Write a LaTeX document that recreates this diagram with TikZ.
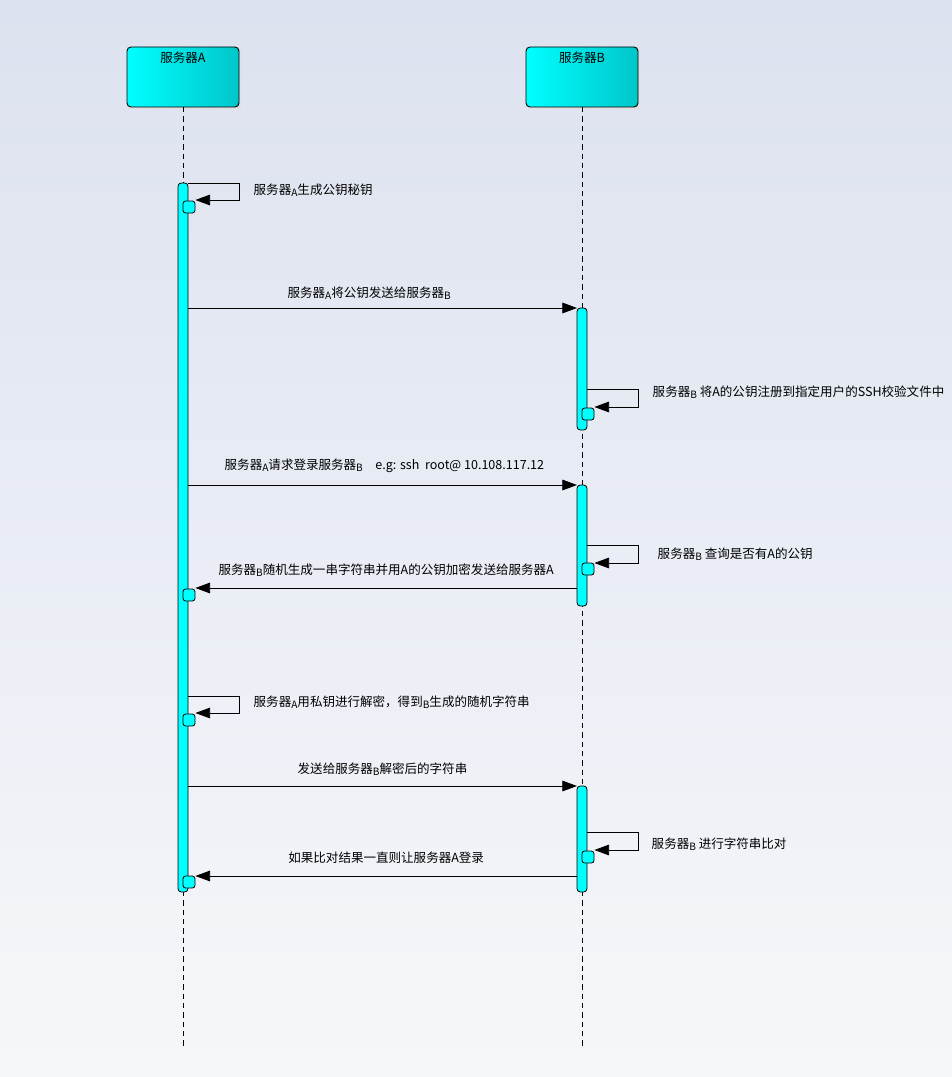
\documentclass[tikz,border=0pt]{standalone}
\usepackage{fontspec}
\setmainfont{Noto Sans CJK SC}
\usetikzlibrary{arrows.meta, positioning, calc}
\definecolor{bgtop}{HTML}{DCE2EF}
\definecolor{bgbot}{HTML}{F6F7FA}
\definecolor{cyanL}{HTML}{00FFFF}
\definecolor{cyanR}{HTML}{00C6CA}
\newcommand{\lowlet}[1]{\raisebox{-0.3ex}{\fontsize{7.6}{8}\selectfont #1}}

\begin{document}
\begin{tikzpicture}[x=0.75pt, y=-0.75pt,
  every node/.style={font=\fontsize{9.4}{11}\selectfont},
  headbox/.style={left color=cyanL, right color=cyanR, draw=black, rounded corners=3pt, line width=0.7pt},
  actbar/.style={fill=cyanL, draw=black, rounded corners=2.5pt, line width=0.6pt},
  tick/.style={fill=cyanL, draw=black, rounded corners=2pt, line width=0.6pt, minimum width=9pt, minimum height=9pt, inner sep=0pt},
  msg/.style={-{Triangle[length=11pt, width=8pt]}, line width=0.6pt},
  life/.style={dashed, line width=0.5pt, dash pattern=on 4pt off 3pt}]
  % background
  \useasboundingbox (0,0) rectangle (952,1077);
  \shade[top color=bgtop, bottom color=bgbot] (0,0) rectangle (952,1077);

  % heads and lifelines
  \fill[black!12] (129,49) rectangle (241,109);
  \fill[black!12] (528,49) rectangle (640,109);
  \draw[headbox] (127,47) rectangle (239,107);
  \draw[headbox] (526,47) rectangle (638,107);
  \node (hA) at (183,58) {服务器A};
  \node (hB) at (582,58) {服务器B};
  \foreach \x in {183, 582}
    \draw[life] (\x,107) -- (\x,1047);

  % activation bars
  \draw[actbar] (178,183) rectangle (188,892);
  \draw[actbar] (577,308) rectangle (587,430);
  \draw[actbar] (577,485) rectangle (587,606);
  \draw[actbar] (577,786) rectangle (587,892);

  % small boxes
  \node[tick] (ta1) at (189,207) {};
  \node[tick] (ta2) at (189,595) {};
  \node[tick] (ta3) at (189,720) {};
  \node[tick] (ta4) at (189,882) {};
  \node[tick] (tb1) at (588,414) {};
  \node[tick] (tb2) at (588,569) {};
  \node[tick] (tb3) at (588,857) {};

  % self messages
  \draw[msg] (188,183) -- (239,183) -- (239,200) -- (ta1.north east |- 0,200);
  \node[anchor=west] (sa1) at (249,190) {服务器\lowlet{A}生成公钥秘钥};
  \draw[msg] (587,389) -- (638,389) -- (638,407) -- (tb1.north east |- 0,407);
  \node[anchor=west] (sb1) at (648,392) {服务器\lowlet{B} 将A的公钥注册到指定用户的SSH校验文件中};
  \draw[msg] (587,545) -- (638,545) -- (638,563) -- (tb2.north east |- 0,563);
  \node[anchor=west] (sb2) at (653,554) {服务器\lowlet{B} 查询是否有A的公钥};
  \draw[msg] (188,696) -- (239,696) -- (239,713) -- (ta3.north east |- 0,713);
  \node[anchor=west] (sa3) at (249,702) {服务器\lowlet{A}用私钥进行解密，得到\lowlet{B}生成的随机字符串};
  \draw[msg] (587,832) -- (638,832) -- (638,850) -- (tb3.north east |- 0,850);
  \node[anchor=west] (sb3) at (647,844) {服务器\lowlet{B} 进行字符串比对};

  % messages between servers
  \coordinate (m1a) at (188,308);
  \coordinate (m1b) at (577,308);
  \draw[msg] (m1a) -- (m1b) node[midway, above=3pt, xshift=-10pt] {服务器\lowlet{A}将公钥发送给服务器\lowlet{B}};
  \coordinate (m2a) at (188,485);
  \coordinate (m2b) at (577,485);
  \draw[msg] (m2a) -- (m2b);
  \node[anchor=west] (l2) at (220,466) {服务器\lowlet{A}请求登录服务器\lowlet{B}\quad e.g: ssh\ \ root@ 10.108.117.12};
  \coordinate (m3b) at (577,588);
  \draw[msg] (m3b) -- (ta2.north east |- 0,588) node[midway, above=5pt] {服务器\lowlet{B}随机生成一串字符串并用A的公钥加密发送给服务器A};
  \coordinate (m4a) at (188,786);
  \coordinate (m4b) at (577,786);
  \draw[msg] (m4a) -- (m4b) node[midway, above=4pt] {发送给服务器\lowlet{B}解密后的字符串};
  \coordinate (m5b) at (577,876);
  \draw[msg] (m5b) -- (ta4.north east |- 0,876) node[midway, above=6pt] {如果比对结果一直则让服务器A登录};
\end{tikzpicture}
\end{document}
